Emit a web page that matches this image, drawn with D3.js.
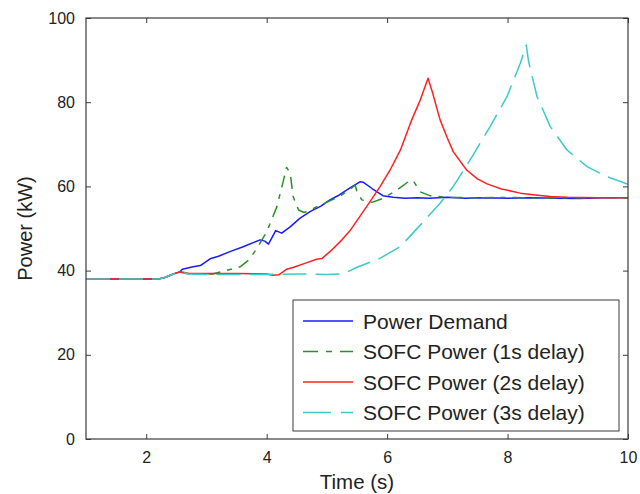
<!DOCTYPE html>
<html><head><meta charset="utf-8">
<script src="https://cdn.jsdelivr.net/npm/d3@7/dist/d3.min.js"></script>
<style>body{margin:0;background:#fff;} svg{display:block;}</style>
</head><body>
<svg id="c" width="640" height="494"></svg>
<script>
const demandT = [1, 2.2, 2.3, 2.45, 2.56, 2.6, 2.78, 2.9, 3.06, 3.2, 3.39, 3.6, 3.89, 3.97, 4.03, 4.15, 4.25, 4.39, 4.55, 4.72, 4.9, 5.05, 5.2, 5.41, 5.55, 5.6, 5.75, 5.93, 6.1, 6.3, 6.5, 6.7, 7, 7.3, 7.6, 8, 8.4, 8.8, 9.2, 9.6, 10];
const demandP = [38, 38, 38.3, 39.2, 39.7, 40.3, 40.9, 41.2, 42.8, 43.4, 44.5, 45.6, 47.3, 47, 46.3, 49.5, 48.9, 50.4, 52.4, 54, 55.3, 56.8, 57.9, 59.9, 61.1, 61, 59.5, 57.8, 57.4, 57.2, 57.3, 57.2, 57.4, 57.2, 57.3, 57.2, 57.3, 57.2, 57.1, 57.3, 57.3];

const sofc1T = [1, 2.2, 2.3, 2.45, 2.56, 2.65, 2.9, 3.1, 3.34, 3.56, 3.7, 3.84, 4.0, 4.17, 4.28, 4.33, 4.39, 4.44, 4.53, 4.62, 4.72, 4.9, 5.05, 5.2, 5.35, 5.47, 5.5, 5.58, 5.75, 5.94, 6.16, 6.38, 6.43, 6.55, 6.71, 7.0, 7.5, 8, 8.5, 9, 9.5, 10];
const sofc1P = [38, 38, 38.3, 39.2, 39.7, 39.3, 39.2, 39.2, 40.1, 40.9, 42.5, 45.3, 49.2, 55.2, 61.5, 64.5, 63.2, 57.6, 54.4, 53.8, 54.4, 55.6, 56.6, 57.5, 59, 60.3, 58.7, 56.8, 56.2, 57.2, 59.1, 61.4, 61.4, 58.7, 57.8, 57.4, 57.3, 57.4, 57.2, 57.3, 57.3, 57.3];

const sofc2T = [1, 2.2, 2.3, 2.45, 2.56, 2.7, 3.0, 3.5, 4.0, 4.1, 4.2, 4.33, 4.45, 4.61, 4.83, 4.92, 5.05, 5.11, 5.25, 5.39, 5.52, 5.66, 5.88, 6.05, 6.22, 6.4, 6.55, 6.68, 6.75, 6.88, 7.0, 7.1, 7.32, 7.5, 7.66, 7.9, 8.21, 8.5, 8.71, 9, 9.5, 10];
const sofc2P = [38, 38, 38.3, 39.2, 39.7, 39.4, 39.3, 39.3, 39.2, 38.9, 39.0, 40.3, 40.8, 41.6, 42.7, 42.9, 44.5, 45.3, 47.3, 49.6, 52.3, 55.2, 59.9, 63.9, 68.6, 75.5, 80.5, 85.7, 82.5, 75.8, 71.5, 68.2, 63.9, 61.8, 60.6, 59.4, 58.4, 57.9, 57.6, 57.4, 57.3, 57.3];

const sofc3T = [1, 2.2, 2.3, 2.45, 2.56, 2.7, 3.0, 3.5, 4.0, 4.5, 5.0, 5.27, 5.5, 5.88, 6.22, 6.55, 6.88, 7.1, 7.43, 7.71, 7.99, 8.21, 8.31, 8.35, 8.49, 8.71, 8.99, 9.32, 9.65, 10];
const sofc3P = [38, 38, 38.3, 39.2, 39.7, 39.2, 39.1, 39.1, 39.1, 39.2, 39.1, 39.2, 40.8, 42.9, 45.7, 50.8, 56, 60, 67.5, 74.2, 81.3, 89.2, 93.6, 89.6, 81.3, 74.2, 68.6, 64.7, 62.3, 60.5];

const seriesNames = ["Power Demand", "SOFC Power (1s delay)", "SOFC Power (2s delay)", "SOFC Power (3s delay)"];
const xTicks = [2, 4, 6, 8, 10];
const yTicks = [0, 20, 40, 60, 80, 100];

const svg = d3.select("#c");
const L = 86, R = 628, T = 18, B = 439;
const x = d3.scaleLinear().domain([1, 10]).range([L, R]);
const y = d3.scaleLinear().domain([0, 100]).range([B, T]);
const font = "'Liberation Sans', Arial, Helvetica, sans-serif";
const axisCol = "#3a3a3a";

const styles = [
  {color: "#1a1aff", dash: null, ldash: null},
  {color: "#2b8f2b", dash: "12,7,5,7", ldash: "15,8,6,8"},
  {color: "#ff2020", dash: null, ldash: null},
  {color: "#3ccaca", dash: "24,9", ldash: "28,10"}
];
const data = [[demandT, demandP], [sofc1T, sofc1P], [sofc2T, sofc2P], [sofc3T, sofc3P]];

svg.append("defs").append("clipPath").attr("id", "clip")
  .append("rect").attr("x", L).attr("y", T).attr("width", R - L).attr("height", B - T);

const line = d3.line().x(d => x(d[0])).y(d => y(d[1]));
const g = svg.append("g").attr("clip-path", "url(#clip)");
data.forEach((s, i) => {
  const pts = s[0].map((t, k) => [t, s[1][k]]);
  g.append("path").attr("d", line(pts)).attr("fill", "none")
    .attr("stroke", styles[i].color).attr("stroke-width", 1.5)
    .attr("stroke-dasharray", styles[i].dash)
    .attr("stroke-linejoin", "round");
});

// axes (ticks inward)
const ax = svg.append("g").attr("transform", `translate(0,${B})`)
  .call(d3.axisBottom(x).tickValues(xTicks).tickSize(-5).tickPadding(13).tickFormat(d3.format("d")));
const axT = svg.append("g").attr("transform", `translate(0,${T})`)
  .call(d3.axisTop(x).tickValues(xTicks).tickSize(-5).tickFormat(""));
const ay = svg.append("g").attr("transform", `translate(${L},0)`)
  .call(d3.axisLeft(y).tickValues(yTicks).tickSize(-5).tickPadding(11).tickFormat(d3.format("d")));
const ayR = svg.append("g").attr("transform", `translate(${R},0)`)
  .call(d3.axisRight(y).tickValues(yTicks).tickSize(-5).tickFormat(""));
[ax, axT, ay, ayR].forEach(a => {
  a.select(".domain").remove();
  a.selectAll("line").attr("stroke", axisCol);
  a.selectAll("text").attr("font-family", font).attr("font-size", 16).attr("fill", "#222");
});
svg.append("rect").attr("x", L).attr("y", T).attr("width", R - L).attr("height", B - T)
  .attr("fill", "none").attr("stroke", axisCol).attr("stroke-width", 1.2);

svg.append("text").attr("x", (L + R) / 2).attr("y", 489).attr("text-anchor", "middle")
  .attr("font-family", font).attr("font-size", 20.5).attr("fill", "#222").text("Time (s)");
svg.append("text").attr("transform", `translate(32,${(T + B) / 2}) rotate(-90)`).attr("text-anchor", "middle")
  .attr("font-family", font).attr("font-size", 20).attr("fill", "#222").text("Power (kW)");

// legend
const lg = svg.append("g");
lg.append("rect").attr("x", 293).attr("y", 300).attr("width", 326).attr("height", 131)
  .attr("fill", "#fff").attr("stroke", axisCol).attr("stroke-width", 1);
seriesNames.forEach((n, i) => {
  const yy = 321 + i * 30.5;
  lg.append("line").attr("x1", 303).attr("x2", 353).attr("y1", yy).attr("y2", yy)
    .attr("stroke", styles[i].color).attr("stroke-width", 1.5).attr("stroke-dasharray", styles[i].ldash);
  lg.append("text").attr("x", 363).attr("y", yy + 7.5).attr("font-family", font).attr("font-size", 21)
    .attr("fill", "#222").text(n);
});
</script>
</body></html>
